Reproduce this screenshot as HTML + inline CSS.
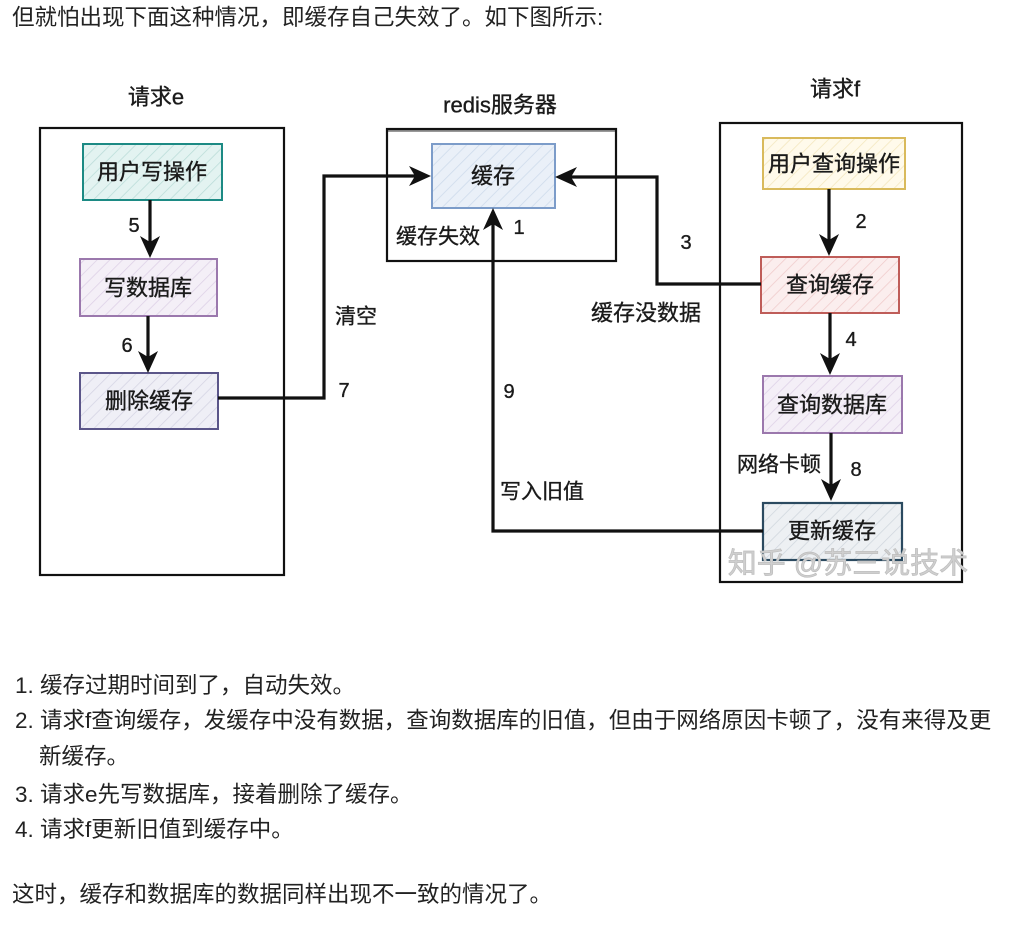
<!DOCTYPE html>
<html><head><meta charset="utf-8">
<style>
html,body{margin:0;padding:0;background:#fff;}
body{width:1024px;height:929px;position:relative;overflow:hidden;font-family:"Liberation Sans","Noto Sans CJK SC",sans-serif;color:#222;}
.t{position:absolute;font-size:22.5px;line-height:30px;white-space:nowrap;color:#222;}
svg{position:absolute;left:0;top:0;}
svg text{font-family:"Liberation Sans","Noto Sans CJK SC",sans-serif;fill:#1a1a1a;}
.lb text{stroke:#1a1a1a;stroke-width:0.35;}
</style></head><body>
<div class="t" style="left:12px;top:3px;">但就怕出现下面这种情况，即缓存自己失效了。如下图所示:</div>

<svg width="1024" height="929" viewBox="0 0 1024 929">
<defs>
<pattern id="hT" width="9" height="9" patternUnits="userSpaceOnUse" patternTransform="rotate(45)"><rect width="9" height="9" fill="#e3f3f1"/><line x1="0" y1="0" x2="0" y2="9" stroke="#b9dcd8" stroke-width="1.5"/></pattern>
<pattern id="hP" width="9" height="9" patternUnits="userSpaceOnUse" patternTransform="rotate(45)"><rect width="9" height="9" fill="#f4eff7"/><line x1="0" y1="0" x2="0" y2="9" stroke="#ddd0e6" stroke-width="1.5"/></pattern>
<pattern id="hD" width="9" height="9" patternUnits="userSpaceOnUse" patternTransform="rotate(45)"><rect width="9" height="9" fill="#efeff6"/><line x1="0" y1="0" x2="0" y2="9" stroke="#d4d3e3" stroke-width="1.5"/></pattern>
<pattern id="hB" width="9" height="9" patternUnits="userSpaceOnUse" patternTransform="rotate(45)"><rect width="9" height="9" fill="#eaf0f8"/><line x1="0" y1="0" x2="0" y2="9" stroke="#cddaeb" stroke-width="1.5"/></pattern>
<pattern id="hY" width="9" height="9" patternUnits="userSpaceOnUse" patternTransform="rotate(45)"><rect width="9" height="9" fill="#fffaeb"/><line x1="0" y1="0" x2="0" y2="9" stroke="#f3e6bd" stroke-width="1.5"/></pattern>
<pattern id="hR" width="9" height="9" patternUnits="userSpaceOnUse" patternTransform="rotate(45)"><rect width="9" height="9" fill="#fbeeee"/><line x1="0" y1="0" x2="0" y2="9" stroke="#efcaca" stroke-width="1.5"/></pattern>
<pattern id="hS" width="9" height="9" patternUnits="userSpaceOnUse" patternTransform="rotate(45)"><rect width="9" height="9" fill="#edf0f3"/><line x1="0" y1="0" x2="0" y2="9" stroke="#cfd6dd" stroke-width="1.5"/></pattern>
</defs>

<!-- containers -->
<rect x="40" y="128" width="244" height="447" fill="none" stroke="#111" stroke-width="2.2"/>
<rect x="387" y="129" width="229" height="132" fill="none" stroke="#111" stroke-width="2.2"/>
<line x1="388" y1="131" x2="615" y2="131" stroke="#333" stroke-width="1"/>
<rect x="720" y="123" width="242" height="459" fill="none" stroke="#111" stroke-width="2.2"/>

<!-- left boxes -->
<rect x="83" y="144" width="139" height="56" fill="url(#hT)" stroke="#1c8a84" stroke-width="2"/>
<rect x="80" y="259" width="137" height="57" fill="url(#hP)" stroke="#9b78ad" stroke-width="2"/>
<rect x="80" y="373" width="138" height="56" fill="url(#hD)" stroke="#5b5689" stroke-width="2"/>

<!-- redis cache box -->
<rect x="432" y="144" width="123" height="64" fill="url(#hB)" stroke="#7c9cc9" stroke-width="2"/>

<!-- right boxes -->
<rect x="763" y="138" width="142" height="51" fill="url(#hY)" stroke="#d9ba5c" stroke-width="2"/>
<rect x="761" y="257" width="138" height="56" fill="url(#hR)" stroke="#bf5d59" stroke-width="2"/>
<rect x="763" y="376" width="139" height="57" fill="url(#hP)" stroke="#9b78ad" stroke-width="2"/>
<rect x="763" y="503" width="139" height="57" fill="url(#hS)" stroke="#2b4a60" stroke-width="2.2"/>

<!-- connectors -->
<g stroke="#111" stroke-width="3.2" fill="none">
<line x1="150" y1="200" x2="150" y2="244"/>
<line x1="148" y1="316" x2="148" y2="359"/>
<polyline points="218,398 324,398 324,176 418,176"/>
<polyline points="761,284 657,284 657,177 568,177"/>
<polyline points="763,531 493,531 493,222"/>
<line x1="829" y1="189" x2="829" y2="243"/>
<line x1="830" y1="313" x2="830" y2="362"/>
<line x1="831" y1="433" x2="831" y2="488"/>
</g>
<g fill="#111">
<polygon points="150,258 140,236 150,242 160,236"/>
<polygon points="148,373 138,351 148,357 158,351"/>
<polygon points="431,176 409,166 415,176 409,186"/>
<polygon points="555,177 577,167 571,177 577,187"/>
<polygon points="493,208 483,230 493,224 503,230"/>
<polygon points="829,256 819,234 829,240 839,234"/>
<polygon points="830,375 820,353 830,359 840,353"/>
<polygon points="831,501 821,479 831,485 841,479"/>
</g>

<!-- labels -->
<g class="lb" font-size="21" text-anchor="middle" dominant-baseline="central">
<text x="156" y="97" font-size="22">请求e</text>
<text x="500" y="105" font-size="22">redis服务器</text>
<text x="835" y="89" font-size="22">请求f</text>

<text x="152" y="172" font-size="22">用户写操作</text>
<text x="148" y="288" font-size="22">写数据库</text>
<text x="149" y="401" font-size="22">删除缓存</text>
<text x="493" y="176" font-size="22">缓存</text>
<text x="834" y="164" font-size="22">用户查询操作</text>
<text x="830" y="285" font-size="22">查询缓存</text>
<text x="832" y="405" font-size="22">查询数据库</text>
<text x="832" y="531" font-size="22">更新缓存</text>

<text x="438" y="237">缓存失效</text>
<text x="356" y="317">清空</text>
<text x="646" y="313" font-size="22">缓存没数据</text>
<text x="542" y="492">写入旧值</text>
<text x="779" y="465">网络卡顿</text>
</g>
<g class="lb" font-size="20" text-anchor="middle" dominant-baseline="central">
<text x="134" y="226">5</text>
<text x="127" y="346">6</text>
<text x="344" y="391">7</text>
<text x="519" y="228">1</text>
<text x="686" y="243">3</text>
<text x="509" y="392">9</text>
<text x="861" y="222">2</text>
<text x="851" y="340">4</text>
<text x="856" y="470">8</text>
</g>
<text x="848" y="564" font-size="29" text-anchor="middle" dominant-baseline="central" style="fill:#cfcfcf;stroke:#bdbdbd;stroke-width:0.7">知乎 @苏三说技术</text>
</svg>

<div class="t" style="left:15px;top:671px;">1. 缓存过期时间到了，自动失效。</div>
<div class="t" style="left:15px;top:706px;">2. 请求f查询缓存，发缓存中没有数据，查询数据库的旧值，但由于网络原因卡顿了，没有来得及更</div>
<div class="t" style="left:39px;top:742px;">新缓存。</div>
<div class="t" style="left:15px;top:780px;">3. 请求e先写数据库，接着删除了缓存。</div>
<div class="t" style="left:15px;top:815px;">4. 请求f更新旧值到缓存中。</div>
<div class="t" style="left:12px;top:880px;">这时，缓存和数据库的数据同样出现不一致的情况了。</div>
</body></html>
